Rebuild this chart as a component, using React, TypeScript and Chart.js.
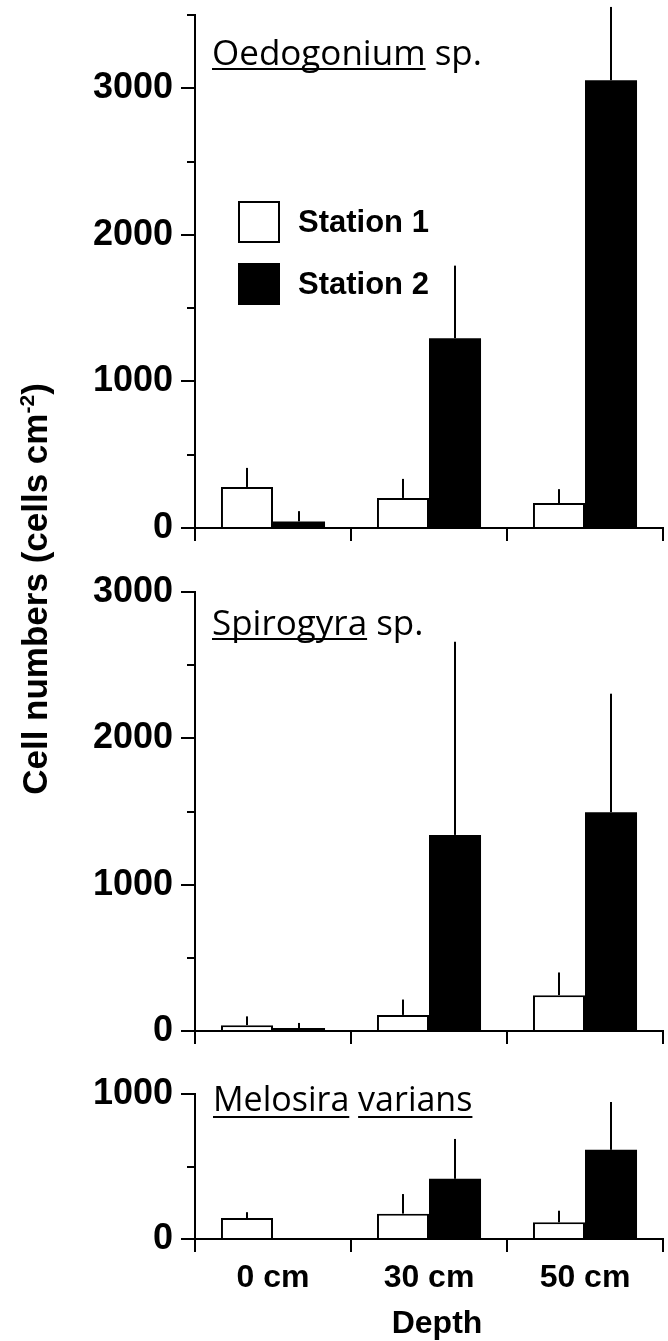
import React, { useEffect, useRef } from "react";
import { Chart, registerables } from "chart.js";

Chart.register(...registerables);

// ---- data ----
const depthLabels = ["0 cm", "30 cm", "50 cm"];
const seriesNames = ["Station 1", "Station 2"];

const oedoStation1 = [280, 205, 170];
const oedoStation1Err = [130, 130, 95];
const oedoStation2 = [45, 1295, 3055];
const oedoStation2Err = [70, 495, 500];

const spiroStation1 = [40, 110, 245];
const spiroStation1Err = [60, 105, 155];
const spiroStation2 = [20, 1340, 1495];
const spiroStation2Err = [35, 1320, 810];

const meloStation1 = [145, 175, 115];
const meloStation1Err = [40, 135, 80];
const meloStation2 = [0, 415, 615];
const meloStation2Err = [0, 275, 330];

const panelMax = [3500, 3000, 1000];
const minorStep = 500;
const labelStep = 1000;

const yTitle = "Cell numbers (cells cm";
const yTitleSup = "-2";
const xTitle = "Depth";

const BOLD = '"Liberation Sans", Arial, Helvetica, sans-serif';
const HUMAN = '"Open Sans", "Noto Sans", sans-serif';

// ---- plugins ----
const errorBarPlugin = {
  id: "errorBars",
  afterDatasetsDraw(chart: any, _args: any, opts: any) {
    const ctx = chart.ctx;
    const y = chart.scales.y;
    const errs = opts.errors || [];
    chart.data.datasets.forEach((ds: any, i: number) => {
      const meta = chart.getDatasetMeta(i);
      meta.data.forEach((bar: any, j: number) => {
        const e = errs[i] ? errs[i][j] : 0;
        if (!e) return;
        const v = ds.data[j];
        ctx.save();
        ctx.strokeStyle = "#000";
        ctx.lineWidth = 2;
        ctx.beginPath();
        ctx.moveTo(bar.x, y.getPixelForValue(v));
        ctx.lineTo(bar.x, y.getPixelForValue(v + e));
        ctx.stroke();
        ctx.restore();
      });
    });
  },
};

const minorTickPlugin = {
  id: "minorTicks",
  afterDraw(chart: any) {
    const ctx = chart.ctx;
    const y = chart.scales.y;
    const left = chart.chartArea.left;
    ctx.save();
    ctx.strokeStyle = "#000";
    ctx.lineWidth = 2;
    y.ticks.forEach((t: any) => {
      if (t.value % labelStep === 0) return;
      const py = Math.round(y.getPixelForValue(t.value));
      ctx.beginPath();
      ctx.moveTo(left - 8, py);
      ctx.lineTo(left, py);
      ctx.stroke();
    });
    ctx.restore();
  },
};

const textPlugin = {
  id: "panelText",
  afterDraw(chart: any, _args: any, opts: any) {
    const ctx = chart.ctx;
    ctx.save();
    ctx.fillStyle = "#000";
    ctx.strokeStyle = "#000";
    ctx.textBaseline = "alphabetic";
    (opts.items || []).forEach((it: any) => {
      ctx.font = it.font;
      ctx.textAlign = it.align || "left";
      let x = it.x;
      it.parts.forEach((p: any) => {
        const w = ctx.measureText(p.text).width;
        ctx.fillText(p.text, x, it.y);
        if (p.underline) {
          ctx.fillRect(x, it.y + it.ul, w, 2);
        }
        x += w;
      });
    });
    (opts.legend || []).forEach((lg: any) => {
      ctx.fillStyle = lg.fill;
      ctx.fillRect(lg.x, lg.y, lg.size, lg.size);
      ctx.lineWidth = 2;
      ctx.strokeStyle = "#000";
      ctx.strokeRect(lg.x + 1, lg.y + 1, lg.size - 2, lg.size - 2);
      ctx.fillStyle = "#000";
      ctx.font = `bold 31px ${BOLD}`;
      ctx.textAlign = "left";
      ctx.textBaseline = "middle";
      ctx.fillText(lg.label, lg.x + lg.size + 18, lg.y + lg.size / 2 + 1);
      ctx.textBaseline = "alphabetic";
    });
    ctx.restore();
  },
};

function makeConfig(p: any) {
  return {
    type: "bar",
    data: {
      labels: depthLabels,
      datasets: [
        {
          label: seriesNames[0],
          data: p.s1,
          backgroundColor: "#fff",
          borderColor: "#000",
          borderWidth: 2,
        },
        {
          label: seriesNames[1],
          data: p.s2,
          backgroundColor: "#000",
          borderColor: "#000",
          borderWidth: 0,
        },
      ],
    },
    options: {
      responsive: false,
      animation: false,
      devicePixelRatio: 1,
      layout: { padding: { top: p.padTop, right: 5, left: 0, bottom: 0 } },
      datasets: { bar: { categoryPercentage: 0.667, barPercentage: 1 } },
      plugins: {
        legend: { display: false },
        tooltip: { enabled: false },
        errorBars: { errors: [p.e1, p.e2] },
        panelText: { items: p.items, legend: p.legend || [] },
      },
      scales: {
        x: {
          type: "category",
          offset: true,
          grid: {
            offset: true,
            drawOnChartArea: false,
            drawTicks: true,
            tickLength: 13,
            tickColor: "#000",
            tickWidth: 2,
            color: "#000",
            lineWidth: 2,
          },
          border: { display: true, color: "#000", width: 2 },
          ticks: {
            display: p.showX,
            color: "#000",
            font: { family: BOLD, size: 32, weight: "bold" },
            padding: 7,
            maxRotation: 0,
          },
          afterFit: (s: any) => {
            s.height = p.xHeight;
            s.paddingLeft = 0;
            s.paddingRight = 0;
          },
        },
        y: {
          min: 0,
          max: p.max,
          ticks: {
            stepSize: minorStep,
            color: "#000",
            padding: 8,
            font: { family: BOLD, size: 36, weight: "bold" },
            callback: (v: any) => (v % labelStep === 0 ? String(v) : ""),
          },
          grid: {
            drawOnChartArea: false,
            drawTicks: true,
            tickLength: 14,
            tickWidth: 2,
            tickColor: (c: any) =>
              c.tick && c.tick.value % labelStep === 0 ? "#000" : "rgba(0,0,0,0)",
            color: "#000",
            lineWidth: 2,
          },
          border: { display: true, color: "#000", width: 2 },
          afterFit: (s: any) => {
            s.width = 195;
            s.paddingTop = 0;
            s.paddingBottom = 0;
          },
        },
      },
    },
    plugins: [errorBarPlugin, minorTickPlugin, textPlugin],
  };
}

const titleFont = `35px ${HUMAN}`;

const panels = [
  {
    top: 0,
    height: 560,
    cfg: {
      s1: oedoStation1, e1: oedoStation1Err, s2: oedoStation2, e2: oedoStation2Err,
      max: panelMax[0], padTop: 15, xHeight: 32, showX: false,
      items: [
        { font: titleFont, x: 212, y: 65, ul: 3, parts: [{ text: "Oedogonium", underline: true }, { text: " sp." }] },
      ],
      legend: [
        { x: 238, y: 201, size: 42, fill: "#fff", label: seriesNames[0] },
        { x: 238, y: 263, size: 42, fill: "#000", label: seriesNames[1] },
      ],
    },
  },
  {
    top: 560,
    height: 502,
    cfg: {
      s1: spiroStation1, e1: spiroStation1Err, s2: spiroStation2, e2: spiroStation2Err,
      max: panelMax[1], padTop: 32, xHeight: 31, showX: false,
      items: [
        { font: titleFont, x: 212, y: 75, ul: 3, parts: [{ text: "Spirogyra", underline: true }, { text: " sp." }] },
      ],
    },
  },
  {
    top: 1062,
    height: 279,
    cfg: {
      s1: meloStation1, e1: meloStation1Err, s2: meloStation2, e2: meloStation2Err,
      max: panelMax[2], padTop: 32, xHeight: 102, showX: true,
      items: [
        { font: `34px ${HUMAN}`, x: 213, y: 49, ul: 5, parts: [{ text: "Melosira", underline: true }, { text: " " }, { text: "varians", underline: true }] },
        { font: `bold 32px ${BOLD}`, x: 437, y: 271, ul: 0, align: "center", parts: [{ text: xTitle }] },
      ],
    },
  },
];

function Panel({ top, height, cfg }: any) {
  const ref = useRef<HTMLCanvasElement | null>(null);
  useEffect(() => {
    if (!ref.current) return;
    const chart = new Chart(ref.current, makeConfig(cfg) as any);
    return () => chart.destroy();
  }, []);
  return (
    <canvas
      ref={ref}
      width={668}
      height={height}
      style={{ position: "absolute", left: 0, top, width: 668, height }}
    />
  );
}

export default function App() {
  return (
    <div
      style={{
        position: "absolute",
        left: 0,
        top: 0,
        width: 668,
        height: 1341,
        background: "#fff",
        overflow: "hidden",
      }}
    >
      {panels.map((p, i) => (
        <Panel key={i} top={p.top} height={p.height} cfg={p.cfg} />
      ))}
      <div
        style={{
          position: "absolute",
          left: 35 - 300,
          top: 589 - 20,
          width: 600,
          height: 40,
          lineHeight: "40px",
          textAlign: "center",
          whiteSpace: "nowrap",
          transform: "rotate(-90deg)",
          transformOrigin: "50% 50%",
          fontFamily: BOLD,
          fontWeight: "bold",
          fontSize: 35,
          color: "#000",
        }}
      >
        {yTitle}
        <sup style={{ fontSize: "0.6em", lineHeight: 0, verticalAlign: "super" }}>{yTitleSup}</sup>)
      </div>
    </div>
  );
}
